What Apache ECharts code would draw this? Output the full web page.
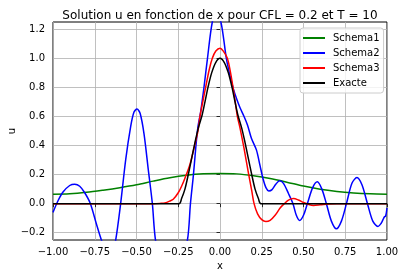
<!DOCTYPE html>
<html>
<head>
<meta charset="utf-8">
<script src="https://cdn.jsdelivr.net/npm/echarts@6/dist/echarts.min.js"></script>
<style>html,body{margin:0;padding:0;background:#fff}#c{width:405px;height:278px}</style>
</head>
<body>
<div id="c"></div>
<script>
// ---- data ----
const seriesNames = ['Schema1', 'Schema2', 'Schema3', 'Exacte'];
const xTicks = [-1, -0.75, -0.5, -0.25, 0, 0.25, 0.5, 0.75, 1];
const yTicks = [-0.2, 0, 0.2, 0.4, 0.6, 0.8, 1.0, 1.2];

const schema1X = [-1, -0.9, -0.8, -0.7, -0.6, -0.5, -0.4, -0.3, -0.2, -0.1, 0, 0.1, 0.2, 0.3, 0.4, 0.5, 0.6, 0.7, 0.8, 0.9, 1];
const schema1Y = [0.065, 0.068, 0.078, 0.093, 0.11, 0.13, 0.155, 0.178, 0.195, 0.205, 0.208, 0.205, 0.192, 0.173, 0.148, 0.121, 0.099, 0.084, 0.074, 0.068, 0.065];

const schema2X = [-1, -0.97, -0.94, -0.9, -0.87, -0.84, -0.81, -0.776, -0.74, -0.707, -0.67, -0.645, -0.626, -0.595, -0.565, -0.535, -0.515, -0.497, -0.478, -0.455, -0.43, -0.405, -0.385, -0.34, -0.29, -0.24, -0.195, -0.177, -0.159, -0.144, -0.132, -0.116, -0.096, -0.075, -0.046, -0.02, 0.005, 0.02, 0.038, 0.06, 0.08, 0.1, 0.12, 0.144, 0.165, 0.188, 0.218, 0.24, 0.258, 0.275, 0.292, 0.31, 0.335, 0.357, 0.38, 0.41, 0.437, 0.457, 0.477, 0.5, 0.523, 0.555, 0.583, 0.61, 0.637, 0.667, 0.697, 0.727, 0.757, 0.79, 0.82, 0.85, 0.883, 0.915, 0.946, 0.965, 0.976, 0.985, 0.992, 1];
const schema2Y = [-0.06, 0.02, 0.08, 0.125, 0.134, 0.12, 0.075, 0.0, -0.14, -0.26, -0.36, -0.33, -0.26, 0.0, 0.3, 0.53, 0.63, 0.651, 0.62, 0.48, 0.24, 0.0, -0.26, -0.45, -0.5, -0.42, -0.25, 0.0, 0.2, 0.4, 0.53, 0.63, 0.8, 1.0, 1.25, 1.32, 1.25, 1.15, 1.0, 0.88, 0.79, 0.72, 0.66, 0.6, 0.54, 0.45, 0.37, 0.26, 0.17, 0.11, 0.088, 0.095, 0.135, 0.158, 0.14, 0.07, 0.0, -0.08, -0.116, -0.08, 0.0, 0.11, 0.15, 0.1, 0.0, -0.12, -0.173, -0.12, 0.0, 0.14, 0.18, 0.13, 0.0, -0.12, -0.157, -0.135, -0.11, -0.09, -0.085, -0.03];

const schema3X = [-1, -0.4, -0.36, -0.33, -0.3, -0.28, -0.25, -0.23, -0.21, -0.18, -0.15, -0.132, -0.12, -0.1, -0.086, -0.065, -0.046, -0.025, 0, 0.02, 0.044, 0.06, 0.078, 0.09, 0.104, 0.12, 0.144, 0.172, 0.19, 0.204, 0.225, 0.25, 0.275, 0.3, 0.33, 0.36, 0.385, 0.41, 0.44, 0.47, 0.5, 0.53, 0.56, 0.6, 0.65, 0.7, 1];
const schema3Y = [0, 0, 0.002, 0.005, 0.018, 0.03, 0.075, 0.12, 0.175, 0.27, 0.41, 0.5, 0.6, 0.72, 0.8, 0.92, 1.0, 1.05, 1.07, 1.05, 1.0, 0.92, 0.8, 0.71, 0.6, 0.52, 0.38, 0.2, 0.09, 0.0, -0.07, -0.11, -0.123, -0.115, -0.08, -0.03, 0.0, 0.025, 0.035, 0.025, 0.008, -0.005, -0.012, -0.008, -0.002, 0, 0];

const exacteX = [-1, -0.245, -0.23, -0.21, -0.19, -0.17, -0.15, -0.13, -0.107, -0.09, -0.072, -0.05, -0.025, 0, 0.025, 0.05, 0.072, 0.09, 0.107, 0.13, 0.15, 0.17, 0.19, 0.21, 0.23, 0.245, 1];
const exacteY = [0, 0, 0.035, 0.1, 0.2, 0.31, 0.42, 0.52, 0.61, 0.7, 0.8, 0.9, 0.973, 1.0, 0.973, 0.9, 0.8, 0.7, 0.61, 0.52, 0.42, 0.31, 0.2, 0.1, 0.035, 0, 0];

const colors = ['#008000', '#0000ff', '#ff0000', '#000000'];
const xsList = [schema1X, schema2X, schema3X, exacteX];
const ysList = [schema1Y, schema2Y, schema3Y, exacteY];

const FONT = 'DejaVu Sans';
const minus = s => s.replace('-', '\u2212');

const chart = echarts.init(document.getElementById('c'), null, {renderer: 'canvas'});
chart.setOption({
  animation: false,
  backgroundColor: '#fff',
  title: {
    text: 'Solution u en fonction de x pour CFL = 0.2 et T = 10',
    left: 215, top: 5, textAlign: 'center',
    textStyle: {fontFamily: FONT, fontSize: 12, fontWeight: 'normal', color: '#000'}
  },
  legend: {
    orient: 'vertical', left: 300, top: 28,
    padding: [4, 4, 4, 3], itemGap: 3,
    itemWidth: 22, itemHeight: 2, icon: 'rect',
    backgroundColor: 'rgba(255,255,255,0.8)', borderColor: '#cccccc', borderWidth: 1, borderRadius: 3,
    textStyle: {fontFamily: FONT, fontSize: 10, color: '#000', lineHeight: 12, padding: [0, 0, 0, 3]},
    data: seriesNames
  },
  grid: {left: 53, right: 18, top: 22, bottom: 38, outerBoundsMode: 'none', containLabel: false,
    show: true, borderColor: '#000', borderWidth: 1, backgroundColor: 'transparent'},
  xAxis: {
    type: 'value', min: -1, max: 1, interval: 0.25,
    name: 'x', nameLocation: 'middle', nameGap: 21, nameMoveOverlap: false,
    nameTextStyle: {fontFamily: FONT, fontSize: 10, color: '#000'},
    axisLine: {show: false},
    axisTick: {show: true, length: 3.5, lineStyle: {color: '#000', width: 0.8}},
    axisLabel: {margin: 7, fontFamily: FONT, fontSize: 10, color: '#000', formatter: v => minus(v.toFixed(2))},
    splitLine: {show: true, lineStyle: {color: '#b0b0b0', width: 0.8}}
  },
  yAxis: {
    type: 'value', min: -0.25, max: 1.25,
    name: 'u', nameLocation: 'middle', nameGap: 36, nameMoveOverlap: false,
    nameTextStyle: {fontFamily: FONT, fontSize: 10, color: '#000'},
    axisLine: {show: false},
    axisTick: {show: true, length: 3.5, customValues: yTicks, lineStyle: {color: '#000', width: 0.8}},
    axisLabel: {margin: 8, fontFamily: FONT, fontSize: 10, color: '#000', customValues: yTicks, formatter: v => minus(v.toFixed(1))},
    splitLine: {show: true, lineStyle: {color: '#b0b0b0', width: 0.8}}
  },
  series: seriesNames.map((name, i) => ({
    name: name, type: 'line', showSymbol: false, symbol: 'none',
    smooth: 0.3, clip: true, z: 2 + i,
    lineStyle: {color: colors[i], width: 1.5},
    itemStyle: {color: colors[i]},
    data: xsList[i].map((x, k) => [x, ysList[i][k]])
  }))
});
</script>
</body>
</html>
